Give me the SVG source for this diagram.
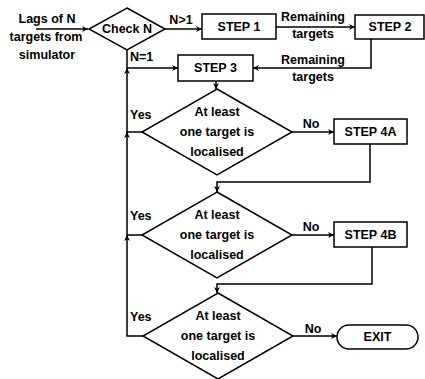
<svg xmlns="http://www.w3.org/2000/svg" width="425" height="379" viewBox="0 0 425 379">
<defs>
<marker id="ah" viewBox="0 0 10 10" refX="10" refY="5" markerWidth="6" markerHeight="6" markerUnits="userSpaceOnUse" orient="auto">
<path d="M0,0 L10,5 L0,10 L3,5 Z" fill="#000"/>
</marker>
</defs>
<style>
text{font-family:"Liberation Sans",Arial,sans-serif;font-weight:bold;font-size:12.5px;fill:#000;text-anchor:middle;dominant-baseline:central}
.l{text-anchor:start}
.s{fill:#fff;stroke:#000;stroke-width:1.5}
.c{fill:none;stroke:#000;stroke-width:1.5}
.a{marker-end:url(#ah)}
</style>
<rect width="425" height="379" fill="#fff"/>
<g id="connectors">
<path class="c a" d="M36,29 H88"/>
<path class="c a" d="M165,29 H202"/>
<path class="c a" d="M276,27 H355"/>
<path class="c a" d="M371,39 V68 H253"/>
<path class="c" d="M127,50 V68"/>
<path class="c a" d="M127,68 H178"/>
<path class="c a" d="M216,81 V89"/>
<path class="c a" d="M142,132 H127 V68"/>
<path class="c a" d="M292,132 H334"/>
<path class="c a" d="M370,144 V182 H217 V192"/>
<path class="c a" d="M142,235 H127 V132"/>
<path class="c a" d="M292,235 H334"/>
<path class="c a" d="M372,247 V284 H217 V293"/>
<path class="c a" d="M143,336 H127 V235"/>
<path class="c a" d="M293,336 H337"/>
<text x="181" y="20">N&gt;1</text>
<text class="l" x="130" y="57">N=1</text>
<text x="313" y="17">Remaining</text>
<text x="313" y="34">targets</text>
<text x="313" y="60">Remaining</text>
<text x="313" y="77">targets</text>
<text class="l" x="130" y="115">Yes</text>
<text class="l" x="130" y="216">Yes</text>
<text class="l" x="130" y="317">Yes</text>
<text x="311" y="124">No</text>
<text x="311" y="227">No</text>
<text x="313" y="329">No</text>
</g>
<g id="input">
<text x="47" y="19">Lags of N</text>
<text x="46" y="37">targets from</text>
<text x="47" y="55">simulator</text>
</g>
<g id="checkN">
<polygon class="s" points="127,8 165,29 127,50 89,29"/>
<text x="127" y="29">Check N</text>
</g>
<g id="step1">
<rect class="s" x="202" y="14" width="74" height="25"/>
<text x="239" y="27">STEP 1</text>
</g>
<g id="step2">
<rect class="s" x="355" y="15" width="69" height="24"/>
<text x="390" y="27">STEP 2</text>
</g>
<g id="step3">
<rect class="s" x="178" y="55" width="75" height="26"/>
<text x="215.5" y="68">STEP 3</text>
</g>
<g id="decision1">
<polygon class="s" points="217,89 292,132 217,175 142,132"/>
<text x="217" y="112">At least</text>
<text x="217" y="132">one target is</text>
<text x="217" y="152">localised</text>
</g>
<g id="step4a">
<rect class="s" x="334" y="119" width="73" height="25"/>
<text x="370.5" y="132">STEP 4A</text>
</g>
<g id="decision2">
<polygon class="s" points="217,192 292,235 217,278 142,235"/>
<text x="217" y="215">At least</text>
<text x="217" y="235">one target is</text>
<text x="217" y="255">localised</text>
</g>
<g id="step4b">
<rect class="s" x="334" y="222" width="73" height="25"/>
<text x="370.5" y="235">STEP 4B</text>
</g>
<g id="decision3">
<polygon class="s" points="218,293 293,336 218,379 143,336"/>
<text x="218" y="316">At least</text>
<text x="218" y="336">one target is</text>
<text x="218" y="356">localised</text>
</g>
<g id="exit">
<rect class="s" x="337" y="325" width="81" height="24" rx="12" ry="12"/>
<text x="377.5" y="337">EXIT</text>
</g>
</svg>
